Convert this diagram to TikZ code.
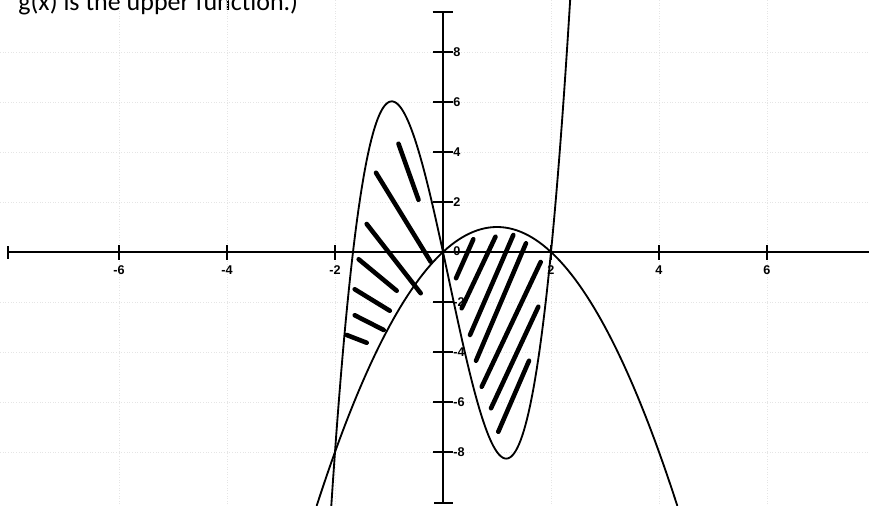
\documentclass[tikz,border=0pt]{standalone}
\usepackage{fontspec}
\setmainfont{Liberation Sans}
\newfontfamily\notefont{Carlito}
\begin{document}
\begin{tikzpicture}[x=1.08cm, y=0.5cm,
  grid/.style={black!10, densely dotted, line width=0.5pt},
  axis/.style={line width=1.1pt},
  tick/.style={line width=1pt},
  curve/.style={line width=1.05pt},
  hatch/.style={line width=2.6pt, line cap=round},
  num/.style={font=\fontsize{7.2}{8}\selectfont\bfseries, inner sep=0.5pt}]
\useasboundingbox (-8.2037,-10.12) rectangle (7.8889,10.08);
\clip (-8.2037,-10.12) rectangle (7.8889,10.08);

\node[anchor=base west, inner sep=0, font=\notefont\fontsize{14.8}{16}\selectfont] (note) at (-7.87,9.64) {g(x) is the upper function.)};

\foreach \x in {-6,-4,-2,2,4,6} \draw[grid] (\x,-10.2) -- (\x,10.2);
\foreach \y in {-8,-6,-4,-2,2,4,6,8} \draw[grid] (-8.3,\y) -- (8,\y);

\draw[axis] (-8.05,0) -- (8,0);
\draw[axis] (0,-10.04) -- (0,9.6);
\draw[tick] (-8.05,-0.26) -- (-8.05,0.26);
\draw[tick] (-0.19,9.6) -- (0.19,9.6);
\draw[tick] (-0.16,-10.04) -- (0.19,-10.04);

\foreach \x [count=\i] in {-6,-4,-2,2,4,6} {
  \draw[tick] (\x,-0.3) -- (\x,0.3);
  \node[num] (xl\i) at (\x,-0.72) {\x};
}
\foreach \y [count=\i] in {-8,-6,-4,-2,2,4,6,8} {
  \draw[tick] (-0.185,\y) -- (0.185,\y);
  \node[num, anchor=west] (yl\i) at (0.17,\y) {\y};
}
\node[num, anchor=west] (yl0) at (0.17,0.05) {0};

\draw[curve, domain=-2.07:2.36, samples=150] plot (\x, {3*(\x)*(\x)*(\x)-(\x)*(\x)-10*(\x)});
\draw[curve, domain=-2.34:4.34, samples=100] plot (\x, {-(\x)*(\x)+2*(\x)});

\draw[hatch] (-0.824,4.33) -- (-0.454,2.09)
  (-1.241,3.17) -- (-0.228,-0.39)
  (-1.413,1.12) -- (-0.413,-1.65)
  (-1.562,-0.29) -- (-0.857,-1.55)
  (-1.635,-1.49) -- (-0.985,-2.35)
  (-1.635,-2.53) -- (-1.098,-3.12)
  (-1.783,-3.32) -- (-1.413,-3.63);
\draw[hatch] (0.562,0.51) -- (0.241,-1.05)
  (0.972,0.61) -- (0.346,-2.25)
  (1.302,0.68) -- (0.500,-3.32)
  (1.537,0.35) -- (0.611,-4.35)
  (1.809,-0.40) -- (0.717,-5.39)
  (1.765,-2.19) -- (0.889,-6.25)
  (1.593,-4.35) -- (1.024,-7.19);
\end{tikzpicture}
\end{document}
